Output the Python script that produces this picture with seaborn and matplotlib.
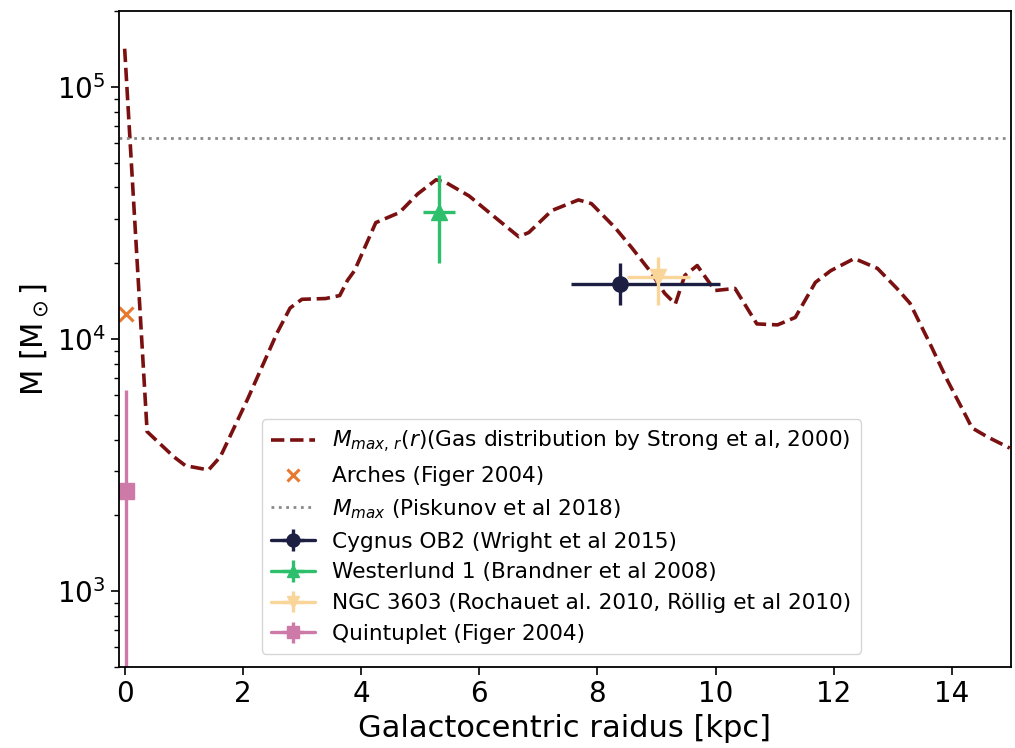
import numpy as np
import pandas as pd
import matplotlib
matplotlib.use("Agg")
import matplotlib.pyplot as plt
import seaborn as sns

# --- data -------------------------------------------------------------
r_kpc = [0.0, 0.38, 0.83, 1.03, 1.42, 1.62, 2.09, 2.58, 2.8, 3.0, 3.4, 3.64,
         3.77, 3.89, 4.25, 4.65, 4.96, 5.27, 5.44, 5.83, 6.17, 6.67, 6.84,
         7.23, 7.68, 7.9, 8.3, 8.58, 8.91, 9.14, 9.32, 9.48, 9.69, 9.99,
         10.33, 10.7, 11.05, 11.35, 11.69, 11.95, 12.35, 12.74, 13.07, 13.29,
         13.63, 13.92, 14.25, 14.34, 14.6, 14.98]
m_max_r = [1.42e5, 4.3e3, 3.42e3, 3.15e3, 3.03e3, 3.42e3, 5.85e3, 1.06e4,
           1.33e4, 1.44e4, 1.45e4, 1.49e4, 1.71e4, 1.87e4, 2.9e4, 3.18e4,
           3.77e4, 4.29e4, 4.18e4, 3.7e4, 3.18e4, 2.55e4, 2.65e4, 3.24e4,
           3.57e4, 3.45e4, 2.77e4, 2.31e4, 1.84e4, 1.52e4, 1.38e4, 1.79e4,
           1.96e4, 1.56e4, 1.59e4, 1.15e4, 1.14e4, 1.22e4, 1.68e4, 1.87e4,
           2.09e4, 1.91e4, 1.59e4, 1.39e4, 9.6e3, 6.9e3, 4.9e3, 4.45e3,
           4.1e3, 3.7e3]

m_max_piskunov = 6.3e4

arches_r = [0.03]
arches_m = [1.26e4]

cluster_names = ["Cygnus OB2 (Wright et al 2015)",
                 "Westerlund 1 (Brandner et al 2008)",
                 "NGC 3603 (Rochauet al. 2010, Röllig et al 2010)",
                 "Quintuplet (Figer 2004)"]
cluster_r = [8.39, 5.32, 9.03, 0.03]
cluster_m = [1.65e4, 3.2e4, 1.76e4, 2.5e3]
cluster_r_err_lo = [0.83, 0.27, 0.53, 0.0]
cluster_r_err_hi = [1.68, 0.27, 0.53, 0.0]
cluster_m_err_lo = [2.8e3, 1.2e4, 3.9e3, 2.49e3]
cluster_m_err_hi = [3.6e3, 1.3e4, 3.5e3, 3.8e3]
cluster_markers = ["o", "^", "v", "s"]
cluster_colors = ["#1c1f42", "#2ebf6d", "#f9d59a", "#cd7aa8"]

# --- plot ---------------------------------------------------------------
sns.set_style("ticks")
plt.rcParams["font.family"] = ["DejaVu Sans"]
plt.rcParams["mathtext.fontset"] = "dejavusans"
for key in ["text.color", "axes.labelcolor", "xtick.color", "ytick.color"]:
    plt.rcParams[key] = "black"

fig = plt.figure(figsize=(10.15, 7.48), dpi=100)
ax = fig.add_axes([0.117, 0.108, 0.879, 0.877])

df = pd.DataFrame({"r": r_kpc, "M": m_max_r})
sns.lineplot(data=df, x="r", y="M", ax=ax, color="#7a1010", lw=2.6,
             linestyle="--", label=r"$M_{max,\,r}(r)$(Gas distribution by Strong et al, 2000)")

ax.plot(arches_r, arches_m, ls="none", marker="x", color="#e8782f", ms=10,
        mew=2.2, label="Arches (Figer 2004)")

ax.axhline(m_max_piskunov, color="#8a8a8a", ls=":", lw=2,
           label=r"$M_{max}$ (Piskunov et al 2018)")

for i, name in enumerate(cluster_names):
    ax.errorbar([cluster_r[i]], [cluster_m[i]],
                xerr=[[cluster_r_err_lo[i]], [cluster_r_err_hi[i]]],
                yerr=[[cluster_m_err_lo[i]], [cluster_m_err_hi[i]]],
                fmt="-" + cluster_markers[i], color=cluster_colors[i], ms=11,
                lw=2.4, elinewidth=2.4, capsize=0, label=name)

ax.set_yscale("log")
ax.set_xlim(-0.1, 15)
ax.set_ylim(500, 2e5)
ax.set_xticks([0, 2, 4, 6, 8, 10, 12, 14])
ax.tick_params(axis="both", which="major", labelsize=20, length=6, width=1.2)
ax.tick_params(axis="y", which="minor", length=3.5, width=1)
for s in ax.spines.values():
    s.set_linewidth(1.3)
    s.set_color("black")

ax.set_xlabel("Galactocentric raidus [kpc]", fontsize=22)
ax.set_ylabel(r"M [M$_\odot$]", fontsize=22)

handles, labels = ax.get_legend_handles_labels()
leg = ax.legend(handles, labels, loc="lower left", bbox_to_anchor=(0.148, 0.004),
                fontsize=15.6, frameon=True, labelspacing=0.5, markerscale=0.85,
                handlelength=2.0, handletextpad=0.8, borderpad=0.45)

fig.savefig("out.png", dpi=100)
